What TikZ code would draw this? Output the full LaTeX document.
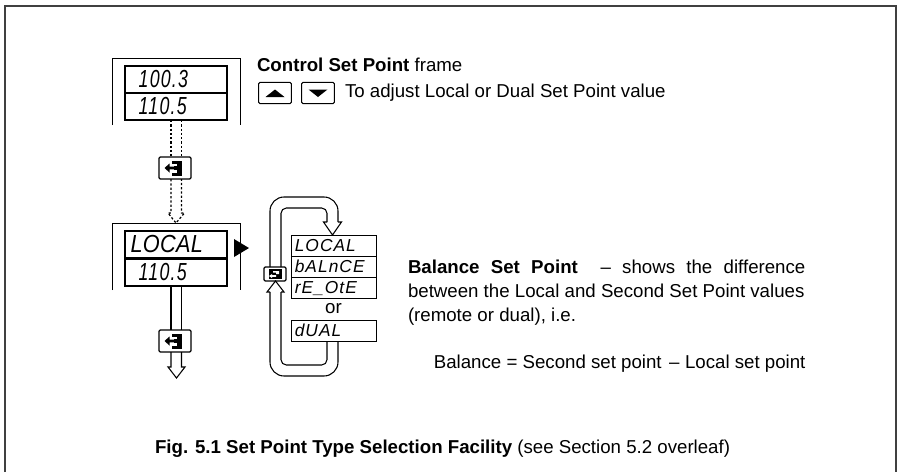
\documentclass[tikz,border=0pt]{standalone}
\usepackage{fontspec}
\setmainfont{Liberation Sans}
\newfontfamily\segnum[LetterSpace=5,FakeStretch=0.72]{Liberation Sans Italic}
\newfontfamily\segbig[LetterSpace=1,FakeStretch=0.88]{Liberation Sans Italic}
\newfontfamily\segsmall[LetterSpace=6]{Liberation Sans Italic}
\usetikzlibrary{calc}
\tikzset{
  x=0.75pt,y=-0.75pt,
  every node/.style={inner sep=0,outer sep=0},
  lcd/.style={draw=black,line width=1.5pt,minimum width=76.5pt,minimum height=20.25pt,text width=70pt,align=left},
  lcdnum/.style={lcd,font=\segnum\fontsize{18.5}{18.5}\selectfont},
  lcdword/.style={lcd,font=\segbig\fontsize{18.5}{18.5}\selectfont},
  mini/.style={draw=black,line width=0.75pt,minimum width=63.75pt,minimum height=15.75pt,font=\segsmall\fontsize{13}{13}\selectfont,text width=58pt,align=left},
  keybox/.style={draw=black,line width=0.9pt,rounded corners=1pt,fill=white,minimum width=24pt,minimum height=16.5pt},
  arrowkey/.style={draw=black,line width=0.8pt,rounded corners=1pt,fill=white,minimum width=24.5pt,minimum height=16pt},
  smallkey/.style={draw=black,line width=0.9pt,rounded corners=1pt,fill=white,minimum width=16.5pt,minimum height=10.5pt},
  bracket/.style={line width=0.75pt},
  shaft/.style={line width=0.8pt},
  dotshaft/.style={line width=0.9pt,dash pattern=on 1.7pt off 1.5pt},
  label/.style={font=\fontsize{14}{16}\selectfont,anchor=base west},
}
\newcommand{\enticon}[1]{%
  \begin{scope}[shift={(#1)}]
    \fill[black] (-3,-7) rectangle (7,8);
    \fill[white] (-3,-4.5) rectangle (1.5,-2.2);
    \fill[white] (-3,2.2) rectangle (1.5,5);
    \fill[white] (-3,-2.2) rectangle (-1.5,2.2);
    \fill[black] (-10.5,0) -- (-5.5,-4.5) -- (-5.5,-1.3) -- (0.5,-1.3) -- (0.5,1.3) -- (-5.5,1.3) -- (-5.5,4.5) -- cycle;
  \end{scope}}
\begin{document}
\begin{tikzpicture}
\useasboundingbox (0,0) rectangle (899,472);
% outer frame
\draw[line width=1.3pt,draw=black!75] (5,472) -- (5,6) -- (896,6) -- (896,472);
% upper display
\draw[bracket] (112,125) -- (112,58) -- (240,58) -- (240,125);
\node[lcdnum] (uptop) at (176,79.5) {\hspace*{7pt}100.3};
\node[lcdnum] (upbot) at (176,106.5) {\hspace*{7pt}110.5};
% enter key 1
\node[keybox] (ent1) at (175,168) {};
\enticon{175,168}
% lower display
\draw[bracket] (112,290) -- (112,223) -- (240,223) -- (240,290);
\node[lcdword] (lowtop) at (176,244.5) {\hspace*{1pt}LOCAL};
\node[lcdnum] (lowbot) at (176,272) {\hspace*{7pt}110.5};
\fill[black] (234,239) -- (249,248) -- (234,257) -- cycle;
% dotted connector
\draw[dotshaft] (171,0 |- upbot.south) -- (171,0 |- ent1.north);
\draw[dotshaft] (181.5,0 |- upbot.south) -- (181.5,0 |- ent1.north);
\coordinate (dtip) at (176,223);
\draw[dotshaft] (171,0 |- ent1.south) -- (171,213) -- (168,213) -- (dtip) -- (184.5,213) -- (181.5,213) -- (181.5,0 |- ent1.south);
% enter key 2
\node[keybox] (ent2) at (175,341) {};
\enticon{175,341}
\draw[shaft] (171,0 |- lowbot.south) -- (171,0 |- ent2.north);
\draw[shaft] (181.5,0 |- lowbot.south) -- (181.5,0 |- ent2.north);
\coordinate (ltip) at (176.5,378);
\draw[shaft] (171,0 |- ent2.south) -- (171,367) -- (168,367) -- (ltip) -- (185,367) -- (181.5,367) -- (181.5,0 |- ent2.south);
% mini displays
\node[mini] (m1) at (333.5,245.5) {LOCAL};
\node[mini] (m2) at (333.5,266.5) {bALnCE};
\node[mini] (m3) at (333.5,288) {rE\_OtE};
\node[font=\fontsize{14}{16}\selectfont] (orl) at (333.5,309) {or};
\node[mini] (m4) at (333.5,330.5) {dUAL};
% scroll key
\node[smallkey] (sk) at (275,274) {};
\fill[black] (268.5,269) rectangle (281.5,279);
\fill[white] (273,271) -- (279,271) -- (279,274) -- (276,274) -- (276,272.5) -- (273,272.5) -- cycle;
\fill[white] (269,276) -- (272,274) -- (272,275.2) -- (276,275.2) -- (276,276.8) -- (272,276.8) -- (272,278) -- cycle;
% loop upper
\draw[shaft,rounded corners=10.5pt] (270,0 |- sk.north) -- (270,197) -- (338,197) -- (338,222);
\draw[shaft,rounded corners=4pt] (281,0 |- sk.north) -- (281,208) -- (327,208) -- (327,222);
\coordinate (ltop) at (332.5,0 |- m1.north);
\draw[shaft] (338,222) -- (341.5,222) -- (ltop) -- (323.5,222) -- (327,222);
% loop lower
\draw[shaft,rounded corners=10.5pt] (338,0 |- m4.south) -- (338,376) -- (270,376) -- (270,292);
\draw[shaft,rounded corners=4pt] (327,0 |- m4.south) -- (327,365) -- (281,365) -- (281,292);
\draw[shaft] (270,292) -- (267,292) -- (275.5,0 |- sk.south) -- (284,292) -- (281,292);
% top text
\node[label] (t1) at (257,71) {\textbf{Control Set Point} frame};
\node[arrowkey] (kup) at (275,93) {};
\fill[black] (265.5,97) -- (275,89.5) -- (284.5,97) -- cycle;
\node[arrowkey] (kdn) at (318,93) {};
\fill[black] (308.5,89.5) -- (318,97) -- (327.5,89.5) -- cycle;
\node[label] (t2) at (345,97) {To adjust Local or Dual Set Point value};
% balance text
\node[label] (b1) at (408,273) {\hbox to 298pt{\textbf{Balance\hfill Set\hfill Point}\hfill\hfill --\hfill shows\hfill the\hfill difference}};
\node[label] (b2) at (408,297) {between the Local and Second Set Point values};
\node[label] (b3) at (408,321) {(remote or dual), i.e.};
\node[font=\fontsize{14}{16}\selectfont,anchor=base east] (b4) at (805.5,368) {Balance = Second set point\hspace{0.4em}--\hspace{0.3em}Local set point};
\node[label] (cap) at (155,453) {\textbf{Fig. 5.1 Set Point Type Selection Facility} (see Section 5.2 overleaf)};
\end{tikzpicture}
\end{document}
